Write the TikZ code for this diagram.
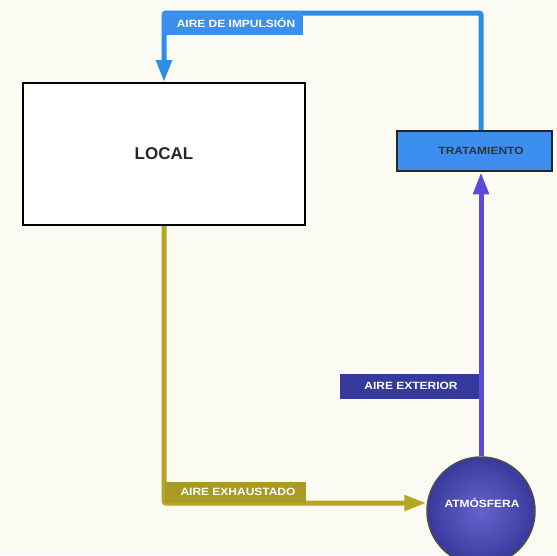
\documentclass[tikz,border=0pt]{standalone}
\usepackage{fontspec}
\setmainfont{Liberation Sans}
\usetikzlibrary{arrows.meta}
\definecolor{paper}{HTML}{FBFAF3}
\definecolor{supply}{HTML}{2F8DE4}
\definecolor{supplybox}{HTML}{3C8FEE}
\definecolor{outside}{HTML}{5A4CD6}
\definecolor{outsidebox}{HTML}{363A9C}
\definecolor{exhaust}{HTML}{B6A626}
\definecolor{exhaustbox}{HTML}{A89A22}
\definecolor{sphere}{HTML}{4848C4}
\newcommand{\wide}[1]{\scalebox{1.14}[1]{#1}}
\tikzset{
  flow/.style={line width=5pt, rounded corners=2pt},
  tip/.style={-{Triangle[length=22pt,width=15pt]}},
  tagfont/.style={font=\bfseries\fontsize{10.5}{12}\selectfont},
  tagtext/.style={tagfont, text=white, inner sep=0pt},
}
\begin{document}
\begin{tikzpicture}[x=1pt,y=-1pt]
  % page
  \fill[paper] (0,0) rectangle (557,555);
  \useasboundingbox (0,0) rectangle (557,555);

  % room
  \node[draw=black, line width=2pt, fill=white, minimum width=282pt, minimum height=142pt,
        font=\bfseries\fontsize{17}{20}\selectfont, text=black!85] (local) at (164,154) {LOCAL};
  % treatment unit (its duct runs through x = 481)
  \coordinate (duct) at (481,0);
  \node[draw=black!85, line width=2.5pt, fill=supplybox, minimum width=155pt, minimum height=40pt]
        (trat) at (474.5,151) {};
  \node[tagfont, text=black!80] (tratlbl) at (481,151) {\wide{TRATAMIENTO}};
  % atmosphere
  \begin{scope}
    \clip (0,0) rectangle (557,555);
    \node[circle, draw=black!70, line width=1.5pt, inner sep=0pt, minimum size=108pt,
          inner color=sphere!85!white, outer color=sphere!80!black] (atm) at (481,511) {};
  \end{scope}
  \node[tagtext] (atmlbl) at (482,503) {\wide{ATMÓSFERA}};

  % corner points of the ducts
  \coordinate (topR) at (duct |- 0,13);
  \coordinate (botL) at (local.south |- 0,503);

  % supply air: treatment -> room
  \draw[flow, supply, tip] (trat.north -| duct) -- (topR) -| (local.north);
  % outdoor air: atmosphere -> treatment
  \draw[flow, outside, tip] (atm.north) -- (trat.south -| duct);
  % exhaust air: room -> atmosphere
  \draw[flow, exhaust, tip] (local.south) -- (botL) -- (atm.west |- botL);

  % duct labels
  \fill[supplybox] (162,12) rectangle (303,35);
  \node[tagtext] (lblimp) at (236,23) {\wide{AIRE DE IMPULSIÓN}};
  \fill[outsidebox] (340,374) rectangle (479,399);
  \node[tagtext] (lblext) at (411,386) {\wide{AIRE EXTERIOR}};
  \fill[exhaustbox] (165,482) rectangle (306,503);
  \node[tagtext] (lblexh) at (238,492) {\wide{AIRE EXHAUSTADO}};
\end{tikzpicture}
\end{document}
